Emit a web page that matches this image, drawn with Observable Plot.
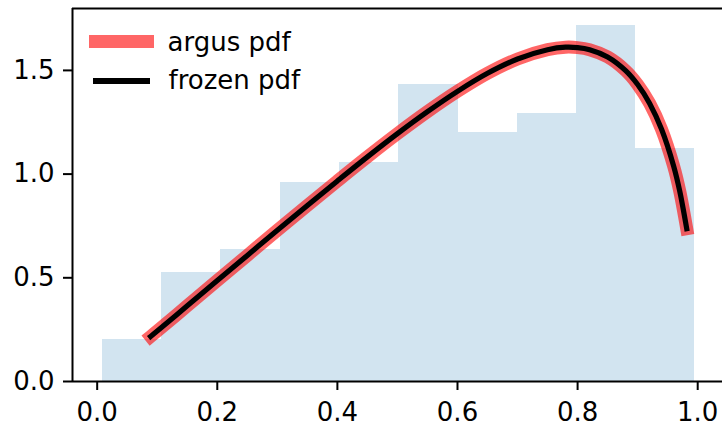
<!DOCTYPE html>
<html>
<head>
<meta charset="utf-8">
<script src="https://cdn.jsdelivr.net/npm/d3@7"></script>
<script src="https://cdn.jsdelivr.net/npm/@observablehq/plot@0.6"></script>
<style>
  body { margin: 0; background: #fff; }
  #wrap { position: relative; width: 722px; height: 426px; font-family: "DejaVu Sans", sans-serif; }
  .lg-row { position: absolute; left: 0; top: 0; }
  .lg-swatch { position: absolute; }
  .lg-text { position: absolute; font-size: 26px; line-height: 26px; color: #000; white-space: nowrap; }
</style>
</head>
<body>
<div id="wrap"></div>
<script>
// Histogram (density)
const binEdges = [0.0088, 0.1074, 0.2060, 0.3046, 0.4032, 0.5020, 0.6010, 0.7000, 0.7980, 0.8965, 0.9950];
const binHeights = [0.201, 0.524, 0.636, 0.961, 1.054, 1.431, 1.199, 1.291, 1.716, 1.125];

// PDF curve points
const pdfX = [0.089, 0.10, 0.15, 0.20, 0.25, 0.30, 0.35, 0.40, 0.45, 0.50, 0.55, 0.60, 0.65, 0.70, 0.75, 0.78, 0.80, 0.82, 0.85, 0.88, 0.90, 0.92, 0.94, 0.96, 0.97, 0.9817];
const pdfY = [0.217, 0.243, 0.365, 0.487, 0.608, 0.729, 0.849, 0.967, 1.083, 1.195, 1.301, 1.399, 1.486, 1.555, 1.600, 1.612, 1.610, 1.600, 1.565, 1.499, 1.432, 1.341, 1.215, 1.038, 0.919, 0.737];

const seriesNames = ["argus pdf", "frozen pdf"];
const xTicks = [0.0, 0.2, 0.4, 0.6, 0.8, 1.0];
const yTicks = [0.0, 0.5, 1.0, 1.5];
const xDomain = [-0.0411, 1.0413];
const yDomain = [0, 1.7985];

const bins = binHeights.map((h, i) => ({x1: binEdges[i], x2: binEdges[i + 1], h}));
const pdf = pdfX.map((x, i) => ({x, y: pdfY[i]}));

const chart = Plot.plot({
  width: 722,
  height: 426,
  marginLeft: 72,
  marginRight: 0,
  marginTop: 8,
  marginBottom: 45,
  style: {fontSize: "26px", fontFamily: "DejaVu Sans, sans-serif", background: "#fff", color: "#000"},
  x: {domain: xDomain},
  y: {domain: yDomain},
  marks: [
    Plot.rectX(bins, {x1: "x1", x2: "x2", y1: 0, y2: "h", fill: "rgb(210,228,240)", shapeRendering: "crispEdges"}),
    Plot.line(pdf, {x: "x", y: "y", stroke: "red", strokeOpacity: 0.6, strokeWidth: 13, strokeLinecap: "square", strokeLinejoin: "round", curve: "catmull-rom"}),
    Plot.line(pdf, {x: "x", y: "y", stroke: "#000", strokeWidth: 5.2, strokeLinecap: "square", strokeLinejoin: "round", curve: "catmull-rom"}),
    Plot.ruleY([yDomain[0]], {stroke: "#000", strokeWidth: 2}),
    Plot.ruleY([yDomain[1]], {stroke: "#000", strokeWidth: 2}),
    Plot.ruleX([xDomain[0]], {stroke: "#000", strokeWidth: 2}),
    Plot.axisX({ticks: xTicks, tickFormat: d3.format(".1f"), tickSize: 9, tickPadding: 12, strokeWidth: 2, label: null}),
    Plot.axisY({ticks: yTicks, tickFormat: d3.format(".1f"), tickSize: 9, tickPadding: 9, strokeWidth: 2, label: null})
  ]
});

const wrap = document.getElementById("wrap");
wrap.appendChild(chart);

// Legend (overlaid at upper left, as in the reference)
const legendItems = [
  {name: seriesNames[0], color: "rgba(255,0,0,0.6)", w: 65, h: 13, left: 89, cy: 41.7, textLeft: 167.5, baseline: 50.7},
  {name: seriesNames[1], color: "#000", w: 57, h: 5.2, left: 93, cy: 81, textLeft: 168.5, baseline: 88.5}
];
for (const it of legendItems) {
  const sw = document.createElement("div");
  sw.className = "lg-swatch";
  sw.style.left = it.left + "px";
  sw.style.top = (it.cy - it.h / 2) + "px";
  sw.style.width = it.w + "px";
  sw.style.height = it.h + "px";
  sw.style.background = it.color;
  wrap.appendChild(sw);
  const tx = document.createElement("div");
  tx.className = "lg-text";
  tx.textContent = it.name;
  tx.style.left = it.textLeft + "px";
  tx.style.top = (it.baseline - 22) + "px";
  wrap.appendChild(tx);
}
</script>
</body>
</html>
